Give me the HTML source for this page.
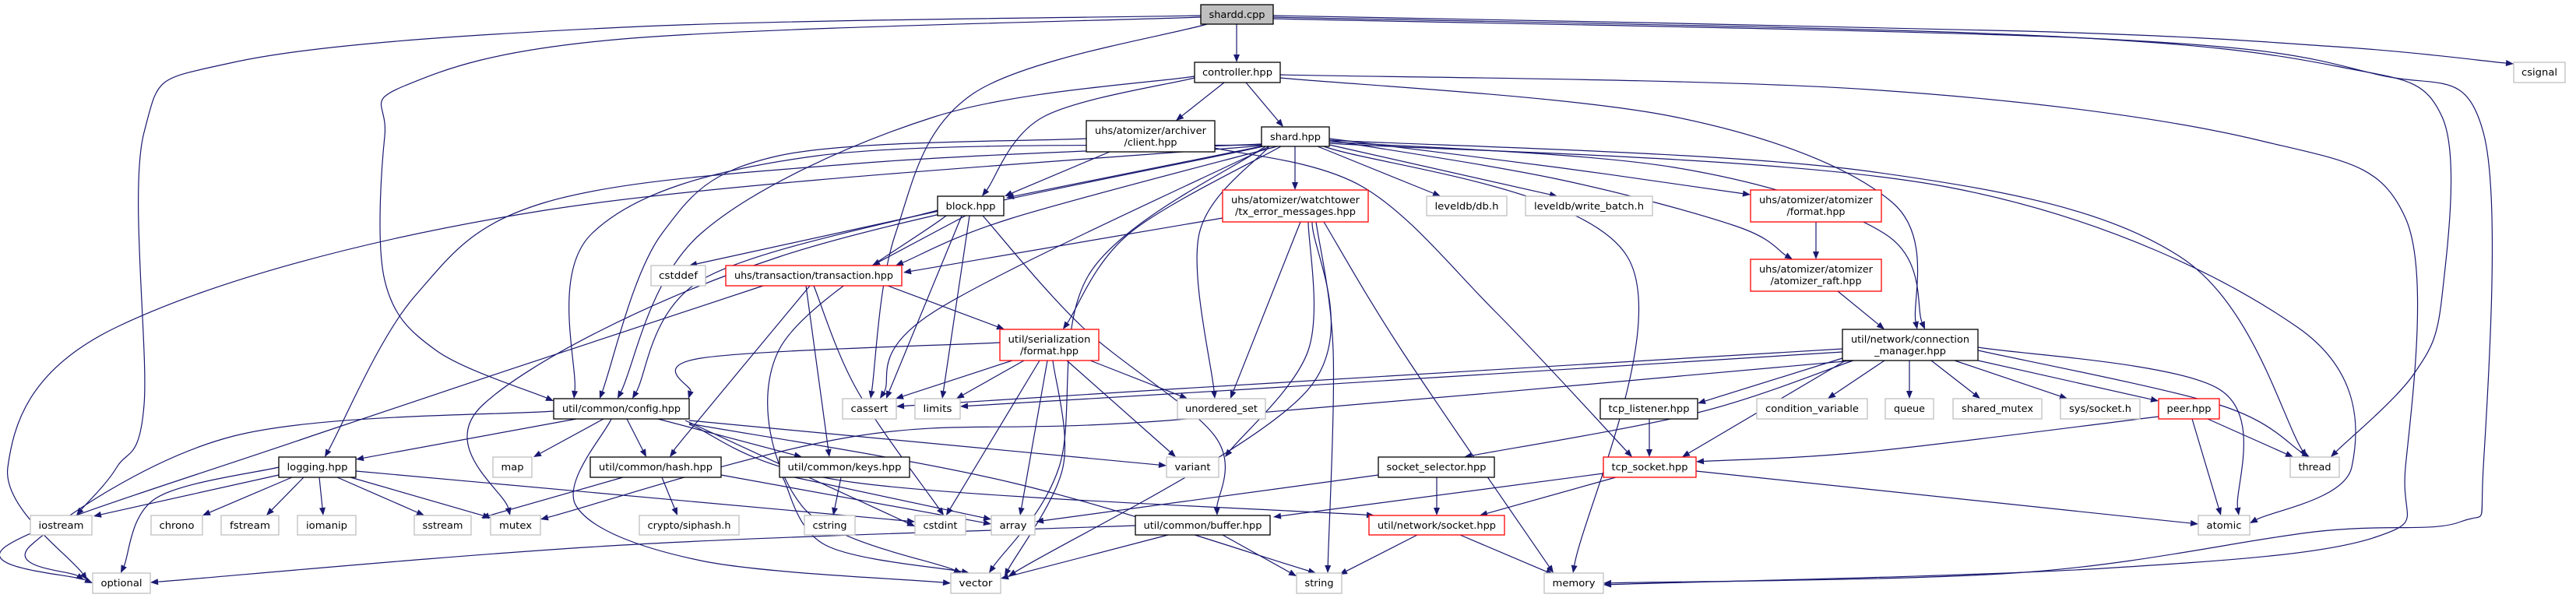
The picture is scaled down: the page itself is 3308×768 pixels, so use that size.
<!DOCTYPE html>
<html><head><meta charset="utf-8"><style>
html,body{margin:0;padding:0;background:#fff;}
svg{display:block;}
text{font-family:"DejaVu Sans","Liberation Sans",sans-serif;font-size:12px;fill:#000;}
rect{stroke-width:1.3;}
</style></head><body>
<svg id="g" width="3308" height="768" viewBox="0 0 3308 768" xmlns="http://www.w3.org/2000/svg">
<g id="edges" fill="none" stroke="#191970" stroke-width="1.2"></g>
<g id="arrows" fill="#191970" stroke="none"></g>
<g id="nodes">
<rect x="1542" y="6" width="93" height="25" fill="#bfbfbf" stroke="#000"/><text x="1588.5" y="23" text-anchor="middle" textLength="72" lengthAdjust="spacingAndGlyphs">shardd.cpp</text>
<rect x="1534" y="80" width="110" height="26" fill="#fff" stroke="#000"/><text x="1589" y="97" text-anchor="middle" textLength="90" lengthAdjust="spacingAndGlyphs">controller.hpp</text>
<rect x="3228" y="80" width="66" height="26" fill="#fff" stroke="#bfbfbf"/><text x="3261" y="97" text-anchor="middle" textLength="46" lengthAdjust="spacingAndGlyphs">csignal</text>
<rect x="1395" y="155" width="165" height="40" fill="#fff" stroke="#000"/><text x="1477.5" y="172" text-anchor="middle" textLength="143" lengthAdjust="spacingAndGlyphs">uhs/atomizer/archiver</text><text x="1477.5" y="187" text-anchor="middle" textLength="68" lengthAdjust="spacingAndGlyphs">/client.hpp</text>
<rect x="1620" y="163" width="87" height="25" fill="#fff" stroke="#000"/><text x="1663.5" y="180" text-anchor="middle" textLength="65" lengthAdjust="spacingAndGlyphs">shard.hpp</text>
<rect x="1204" y="252" width="85" height="25" fill="#fff" stroke="#000"/><text x="1246.5" y="269" text-anchor="middle" textLength="64" lengthAdjust="spacingAndGlyphs">block.hpp</text>
<rect x="1570" y="244" width="187" height="41" fill="#fff" stroke="#ff0000"/><text x="1663.5" y="261" text-anchor="middle" textLength="165" lengthAdjust="spacingAndGlyphs">uhs/atomizer/watchtower</text><text x="1663.5" y="276" text-anchor="middle" textLength="155" lengthAdjust="spacingAndGlyphs">/tx_error_messages.hpp</text>
<rect x="1832" y="252" width="103" height="25" fill="#fff" stroke="#bfbfbf"/><text x="1883.5" y="269" text-anchor="middle" textLength="82" lengthAdjust="spacingAndGlyphs">leveldb/db.h</text>
<rect x="1959" y="252" width="163" height="25" fill="#fff" stroke="#bfbfbf"/><text x="2040.5" y="269" text-anchor="middle" textLength="141" lengthAdjust="spacingAndGlyphs">leveldb/write_batch.h</text>
<rect x="2248" y="244" width="168" height="41" fill="#fff" stroke="#ff0000"/><text x="2332" y="261" text-anchor="middle" textLength="146" lengthAdjust="spacingAndGlyphs">uhs/atomizer/atomizer</text><text x="2332" y="276" text-anchor="middle" textLength="75" lengthAdjust="spacingAndGlyphs">/format.hpp</text>
<rect x="2248" y="333" width="168" height="41" fill="#fff" stroke="#ff0000"/><text x="2332" y="350" text-anchor="middle" textLength="146" lengthAdjust="spacingAndGlyphs">uhs/atomizer/atomizer</text><text x="2332" y="365" text-anchor="middle" textLength="117" lengthAdjust="spacingAndGlyphs">/atomizer_raft.hpp</text>
<rect x="836" y="341" width="70" height="26" fill="#fff" stroke="#bfbfbf"/><text x="871" y="358" text-anchor="middle" textLength="50" lengthAdjust="spacingAndGlyphs">cstddef</text>
<rect x="932" y="341" width="226" height="26" fill="#fff" stroke="#ff0000"/><text x="1045" y="358" text-anchor="middle" textLength="204" lengthAdjust="spacingAndGlyphs">uhs/transaction/transaction.hpp</text>
<rect x="1284" y="423" width="127" height="40" fill="#fff" stroke="#ff0000"/><text x="1347.5" y="440" text-anchor="middle" textLength="106" lengthAdjust="spacingAndGlyphs">util/serialization</text><text x="1347.5" y="455" text-anchor="middle" textLength="75" lengthAdjust="spacingAndGlyphs">/format.hpp</text>
<rect x="2366" y="423" width="174" height="40" fill="#fff" stroke="#000"/><text x="2453" y="440" text-anchor="middle" textLength="152" lengthAdjust="spacingAndGlyphs">util/network/connection</text><text x="2453" y="455" text-anchor="middle" textLength="92" lengthAdjust="spacingAndGlyphs">_manager.hpp</text>
<rect x="711" y="512" width="174" height="26" fill="#fff" stroke="#000"/><text x="798" y="529" text-anchor="middle" textLength="152" lengthAdjust="spacingAndGlyphs">util/common/config.hpp</text>
<rect x="1082" y="512" width="69" height="26" fill="#fff" stroke="#bfbfbf"/><text x="1116.5" y="529" text-anchor="middle" textLength="48" lengthAdjust="spacingAndGlyphs">cassert</text>
<rect x="1175" y="512" width="58" height="26" fill="#fff" stroke="#bfbfbf"/><text x="1204" y="529" text-anchor="middle" textLength="37" lengthAdjust="spacingAndGlyphs">limits</text>
<rect x="1512" y="512" width="113" height="26" fill="#fff" stroke="#bfbfbf"/><text x="1568.5" y="529" text-anchor="middle" textLength="93" lengthAdjust="spacingAndGlyphs">unordered_set</text>
<rect x="2055" y="512" width="125" height="26" fill="#fff" stroke="#000"/><text x="2117.5" y="529" text-anchor="middle" textLength="104" lengthAdjust="spacingAndGlyphs">tcp_listener.hpp</text>
<rect x="2256" y="512" width="142" height="26" fill="#fff" stroke="#bfbfbf"/><text x="2327" y="529" text-anchor="middle" textLength="120" lengthAdjust="spacingAndGlyphs">condition_variable</text>
<rect x="2421" y="512" width="62" height="26" fill="#fff" stroke="#bfbfbf"/><text x="2452" y="529" text-anchor="middle" textLength="40" lengthAdjust="spacingAndGlyphs">queue</text>
<rect x="2508" y="512" width="114" height="26" fill="#fff" stroke="#bfbfbf"/><text x="2565" y="529" text-anchor="middle" textLength="92" lengthAdjust="spacingAndGlyphs">shared_mutex</text>
<rect x="2646" y="512" width="102" height="26" fill="#fff" stroke="#bfbfbf"/><text x="2697" y="529" text-anchor="middle" textLength="80" lengthAdjust="spacingAndGlyphs">sys/socket.h</text>
<rect x="2772" y="512" width="78" height="26" fill="#fff" stroke="#ff0000"/><text x="2811" y="529" text-anchor="middle" textLength="57" lengthAdjust="spacingAndGlyphs">peer.hpp</text>
<rect x="358" y="587" width="99" height="26" fill="#fff" stroke="#000"/><text x="407.5" y="604" text-anchor="middle" textLength="78" lengthAdjust="spacingAndGlyphs">logging.hpp</text>
<rect x="633" y="587" width="50" height="26" fill="#fff" stroke="#bfbfbf"/><text x="658" y="604" text-anchor="middle" textLength="29" lengthAdjust="spacingAndGlyphs">map</text>
<rect x="758" y="587" width="168" height="26" fill="#fff" stroke="#000"/><text x="842" y="604" text-anchor="middle" textLength="146" lengthAdjust="spacingAndGlyphs">util/common/hash.hpp</text>
<rect x="1001" y="587" width="167" height="26" fill="#fff" stroke="#000"/><text x="1084.5" y="604" text-anchor="middle" textLength="146" lengthAdjust="spacingAndGlyphs">util/common/keys.hpp</text>
<rect x="1498" y="587" width="67" height="26" fill="#fff" stroke="#bfbfbf"/><text x="1531.5" y="604" text-anchor="middle" textLength="46" lengthAdjust="spacingAndGlyphs">variant</text>
<rect x="1770" y="587" width="149" height="26" fill="#fff" stroke="#000"/><text x="1844.5" y="604" text-anchor="middle" textLength="128" lengthAdjust="spacingAndGlyphs">socket_selector.hpp</text>
<rect x="2059" y="587" width="119" height="26" fill="#fff" stroke="#ff0000"/><text x="2118.5" y="604" text-anchor="middle" textLength="98" lengthAdjust="spacingAndGlyphs">tcp_socket.hpp</text>
<rect x="2941" y="587" width="63" height="26" fill="#fff" stroke="#bfbfbf"/><text x="2972.5" y="604" text-anchor="middle" textLength="42" lengthAdjust="spacingAndGlyphs">thread</text>
<rect x="39" y="662" width="79" height="25" fill="#fff" stroke="#bfbfbf"/><text x="78.5" y="679" text-anchor="middle" textLength="58" lengthAdjust="spacingAndGlyphs">iostream</text>
<rect x="194" y="662" width="66" height="25" fill="#fff" stroke="#bfbfbf"/><text x="227" y="679" text-anchor="middle" textLength="45" lengthAdjust="spacingAndGlyphs">chrono</text>
<rect x="284" y="662" width="74" height="25" fill="#fff" stroke="#bfbfbf"/><text x="321" y="679" text-anchor="middle" textLength="52" lengthAdjust="spacingAndGlyphs">fstream</text>
<rect x="382" y="662" width="75" height="25" fill="#fff" stroke="#bfbfbf"/><text x="419.5" y="679" text-anchor="middle" textLength="53" lengthAdjust="spacingAndGlyphs">iomanip</text>
<rect x="532" y="662" width="73" height="25" fill="#fff" stroke="#bfbfbf"/><text x="568.5" y="679" text-anchor="middle" textLength="52" lengthAdjust="spacingAndGlyphs">sstream</text>
<rect x="630" y="662" width="64" height="25" fill="#fff" stroke="#bfbfbf"/><text x="662" y="679" text-anchor="middle" textLength="42" lengthAdjust="spacingAndGlyphs">mutex</text>
<rect x="821" y="662" width="128" height="25" fill="#fff" stroke="#bfbfbf"/><text x="885" y="679" text-anchor="middle" textLength="107" lengthAdjust="spacingAndGlyphs">crypto/siphash.h</text>
<rect x="1033" y="662" width="65" height="25" fill="#fff" stroke="#bfbfbf"/><text x="1065.5" y="679" text-anchor="middle" textLength="44" lengthAdjust="spacingAndGlyphs">cstring</text>
<rect x="1175" y="662" width="65" height="25" fill="#fff" stroke="#bfbfbf"/><text x="1207.5" y="679" text-anchor="middle" textLength="44" lengthAdjust="spacingAndGlyphs">cstdint</text>
<rect x="1273" y="662" width="56" height="25" fill="#fff" stroke="#bfbfbf"/><text x="1301" y="679" text-anchor="middle" textLength="35" lengthAdjust="spacingAndGlyphs">array</text>
<rect x="1458" y="662" width="173" height="25" fill="#fff" stroke="#000"/><text x="1544.5" y="679" text-anchor="middle" textLength="152" lengthAdjust="spacingAndGlyphs">util/common/buffer.hpp</text>
<rect x="1758" y="662" width="174" height="25" fill="#fff" stroke="#ff0000"/><text x="1845" y="679" text-anchor="middle" textLength="152" lengthAdjust="spacingAndGlyphs">util/network/socket.hpp</text>
<rect x="2823" y="662" width="66" height="25" fill="#fff" stroke="#bfbfbf"/><text x="2856" y="679" text-anchor="middle" textLength="45" lengthAdjust="spacingAndGlyphs">atomic</text>
<rect x="119" y="736" width="74" height="26" fill="#fff" stroke="#bfbfbf"/><text x="156" y="753" text-anchor="middle" textLength="53" lengthAdjust="spacingAndGlyphs">optional</text>
<rect x="1221" y="736" width="64" height="26" fill="#fff" stroke="#bfbfbf"/><text x="1253" y="753" text-anchor="middle" textLength="43" lengthAdjust="spacingAndGlyphs">vector</text>
<rect x="1665" y="736" width="58" height="26" fill="#fff" stroke="#bfbfbf"/><text x="1694" y="753" text-anchor="middle" textLength="37" lengthAdjust="spacingAndGlyphs">string</text>
<rect x="1983" y="736" width="76" height="26" fill="#fff" stroke="#bfbfbf"/><text x="2021" y="753" text-anchor="middle" textLength="55" lengthAdjust="spacingAndGlyphs">memory</text>
</g>
</svg>
<script>
var E=[
[[1588,31],[1588,80]],
[[1635,20],[2600,40],[3000,60],[3228,82]],
[[1635,22],[2600,45],[3000,85],[3136,150],[3136,380],[3100,480],[2993,587]],
[[1635,24],[2700,50],[3050,95],[3189,170],[3189,600],[3160,670],[2972,683],[2600,735],[2059,749]],
[[1542,20],[800,35],[300,80],[185,170],[185,520],[150,600],[98,662]],
[[1542,22],[800,50],[520,110],[494,175],[494,360],[560,450],[711,515]],
[[1550,31],[1250,120],[1150,300],[1118,512]],
[[1572,106],[1510,155]],
[[1600,106],[1648,163]],
[[1534,100],[1340,150],[1261,252]],
[[1534,98],[1200,150],[900,300],[793,512]],
[[1644,100],[2150,150],[2430,260],[2462,423]],
[[1644,96],[2400,115],[2900,180],[3089,280],[3089,600],[3050,690],[2700,730],[2059,751]],
[[1425,195],[1290,252]],
[[1560,190],[1750,240],[1920,400],[2096,587]],
[[1395,178],[1000,200],[850,300],[770,512]],
[[1620,188],[1292,254]],
[[1663,188],[1663,244]],
[[1692,188],[1850,252]],
[[1707,186],[2000,252]],
[[1707,178],[2000,215],[2248,250]],
[[1707,180],[2000,230],[2228,290],[2302,333]],
[[1707,182],[2150,215],[2420,300],[2472,423]],
[[1707,180],[2400,220],[2800,330],[2962,587]],
[[1707,184],[2500,240],[2950,420],[3020,600],[2889,672]],
[[1700,188],[2090,330],[2020,736]],
[[1640,188],[1300,280],[1150,341]],
[[1645,188],[1450,300],[1365,423]],
[[1630,188],[1540,300],[1560,512]],
[[1620,185],[1100,210],[700,260],[533,380],[417,587]],
[[1620,186],[1050,200],[760,300],[737,512]],
[[1620,187],[700,270],[150,420],[10,600],[112,745]],
[[1622,188],[1000,330],[620,520],[655,662]],
[[1630,188],[1200,400],[1130,512]],
[[1625,188],[1400,350],[1360,600],[1270,736]],
[[1240,277],[1120,341]],
[[1210,270],[885,341]],
[[1235,277],[1138,512]],
[[1245,277],[1210,512]],
[[1262,277],[1390,420],[1560,560],[1563,662]],
[[1215,277],[1000,450],[1030,650],[1235,736]],
[[1204,270],[900,360],[812,512]],
[[1570,280],[1160,350]],
[[1670,285],[1580,512]],
[[1680,285],[1680,450],[1573,587]],
[[1690,285],[1712,450],[1705,736]],
[[1700,285],[1800,450],[1995,736]],
[[1685,285],[1680,500],[1295,740]],
[[1140,367],[1290,423]],
[[980,367],[400,560],[10,700],[119,749]],
[[1040,367],[880,560],[860,587]],
[[1035,367],[1065,587]],
[[1045,367],[1100,500],[1212,662]],
[[1284,440],[900,460],[884,512]],
[[1300,463],[1150,512]],
[[1315,463],[1228,512]],
[[1400,463],[1525,512]],
[[1370,463],[1510,587]],
[[1335,463],[1215,662]],
[[1345,463],[1310,662]],
[[1352,463],[1365,600],[1290,740]],
[[740,538],[457,590]],
[[775,538],[685,587]],
[[805,538],[830,587]],
[[845,538],[1030,587]],
[[711,528],[300,560],[40,700],[108,745]],
[[785,538],[740,650],[900,720],[1221,749]],
[[885,540],[1498,598]],
[[885,545],[1100,620],[1765,662]],
[[885,544],[1300,620],[1690,736]],
[[880,540],[1175,676]],
[[358,610],[120,663]],
[[375,613],[260,662]],
[[390,613],[342,662]],
[[410,613],[415,662]],
[[433,613],[545,662]],
[[450,613],[630,665]],
[[358,600],[200,640],[155,736]],
[[457,605],[1175,670]],
[[800,613],[618,665]],
[[850,613],[870,662]],
[[926,610],[1273,673]],
[[1080,613],[1070,662]],
[[1020,613],[1273,667]],
[[1005,613],[1060,700],[1245,736]],
[[1458,675],[800,700],[193,748]],
[[1500,687],[1285,743]],
[[1570,687],[1665,740]],
[[1820,687],[1720,738]],
[[1875,687],[1995,738]],
[[1770,610],[1330,670]],
[[1845,613],[1845,662]],
[[2059,608],[1635,664]],
[[2075,613],[1900,662]],
[[2178,605],[2823,673]],
[[2118,538],[2118,587]],
[[2420,463],[2347,512]],
[[2452,463],[2452,512]],
[[2480,463],[2543,512]],
[[2510,463],[2655,512]],
[[2540,463],[2772,515]],
[[2540,450],[2850,520],[2966,587]],
[[2540,446],[2850,500],[2875,662]],
[[2370,463],[2160,587]],
[[2366,460],[2180,518]],
[[2380,463],[2180,530],[1880,587]],
[[2366,448],[1500,500],[1151,522]],
[[2366,452],[1600,500],[1233,522]],
[[2380,463],[1500,540],[1100,560],[694,667]],
[[2835,538],[2945,587]],
[[2815,538],[2852,662]],
[[2772,535],[2400,580],[2178,593]],
[[2332,285],[2332,333]],
[[2360,374],[2420,423]]
];
var eg=document.getElementById('edges'),ag=document.getElementById('arrows'),NS='http://www.w3.org/2000/svg';
E.forEach(function(p){
 var n=p.length,L=10,W=4;
 var a=p[n-2],b=p[n-1],dx=b[0]-a[0],dy=b[1]-a[1],d=Math.sqrt(dx*dx+dy*dy)||1;
 var ux=dx/d,uy=dy/d;
 var base=[b[0]-ux*L,b[1]-uy*L];
 var q=p.slice();q[n-1]=base;
 var s='M'+q[0][0]+','+q[0][1];
 if(n==2){s+=' L'+base[0]+','+base[1];}
 else{
  for(var i=0;i<n-1;i++){
   var p0=q[i-1]||q[i],p1=q[i],p2=q[i+1],p3=q[i+2]||q[i+1];
   var c1=[p1[0]+(p2[0]-p0[0])/6,p1[1]+(p2[1]-p0[1])/6];
   var c2=[p2[0]-(p3[0]-p1[0])/6,p2[1]-(p3[1]-p1[1])/6];
   s+=' C'+c1[0]+','+c1[1]+' '+c2[0]+','+c2[1]+' '+p2[0]+','+p2[1];
  }
 }
 var pa=document.createElementNS(NS,'path');pa.setAttribute('d',s);eg.appendChild(pa);
 var px=-uy,py=ux;
 var t=document.createElementNS(NS,'polygon');
 t.setAttribute('points',b[0]+','+b[1]+' '+(base[0]+px*W)+','+(base[1]+py*W)+' '+(base[0]-px*W)+','+(base[1]-py*W));
 ag.appendChild(t);
});
</script>
</body></html>
